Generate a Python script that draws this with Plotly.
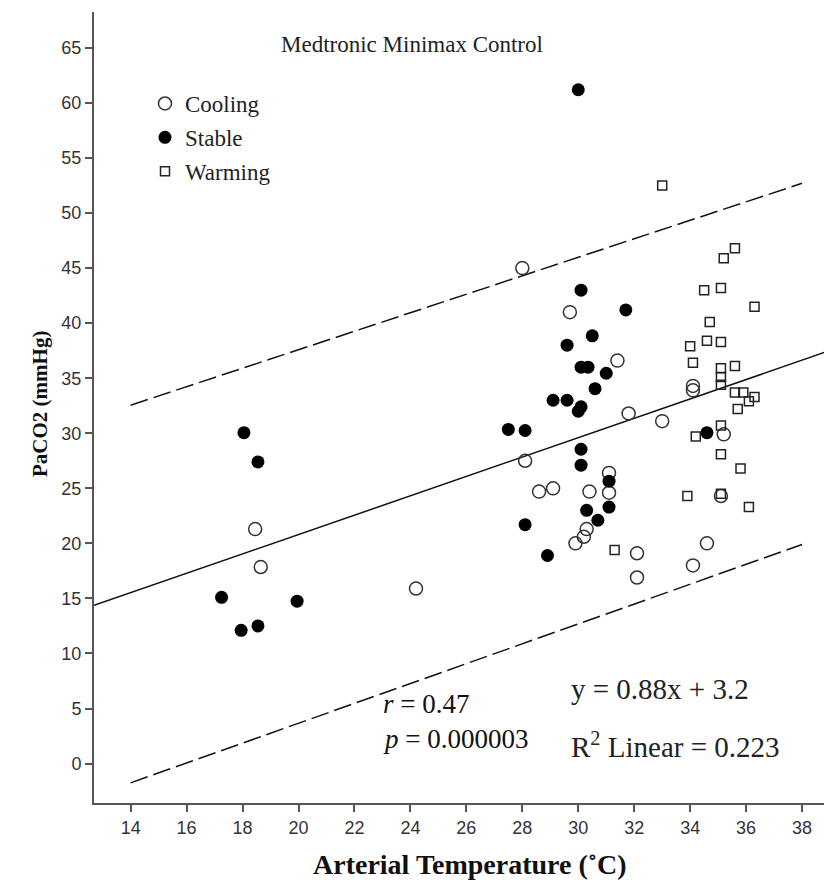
import plotly.graph_objects as go

# ---- data ----
cooling_x = [28.0, 29.7, 31.4, 31.8, 33.0, 28.1, 31.1, 28.6, 29.1, 30.4, 31.1, 30.3, 30.2, 29.9,
             32.1, 32.1, 34.6, 34.1, 34.1, 34.1, 35.2, 35.1, 18.45, 18.65, 24.2]
cooling_y = [45.0, 41.0, 36.6, 31.8, 31.1, 27.5, 26.4, 24.7, 25.0, 24.7, 24.6, 21.3, 20.6, 20.0,
             19.1, 16.9, 20.0, 18.0, 34.3, 33.9, 29.9, 24.3, 21.3, 17.85, 15.9]

stable_x = [30.0, 30.1, 31.7, 30.5, 29.6, 30.1, 30.35, 31.0, 30.6, 29.1, 29.6, 30.0, 30.1, 27.5,
            28.1, 30.1, 30.1, 31.1, 31.1, 30.3, 30.7, 28.1, 28.9, 34.6, 18.05, 18.55, 17.25,
            19.95, 18.55, 17.95]
stable_y = [61.2, 43.0, 41.2, 38.85, 38.0, 36.0, 36.0, 35.45, 34.05, 33.0, 33.0, 32.0, 32.4, 30.35,
            30.25, 28.55, 27.1, 25.65, 23.3, 23.0, 22.1, 21.7, 18.9, 30.05, 30.05, 27.4, 15.1,
            14.75, 12.5, 12.1]

warming_x = [33.0, 35.6, 35.2, 34.5, 35.1, 36.3, 34.7, 34.6, 35.1, 34.0, 34.1, 35.6, 35.1, 35.1,
             35.1, 35.6, 35.9, 36.3, 36.1, 35.7, 35.1, 34.2, 35.1, 35.8, 33.9, 35.1, 36.1, 31.3]
warming_y = [52.5, 46.8, 45.9, 43.0, 43.2, 41.5, 40.1, 38.4, 38.3, 37.9, 36.4, 36.1, 35.9, 35.1,
             34.4, 33.7, 33.7, 33.3, 32.9, 32.2, 30.7, 29.7, 28.1, 26.8, 24.3, 24.5, 23.3, 19.4]

fit_slope = 0.88
fit_intercept = 3.2
fit_x = [12.69, 39.07]

pi_x = [14, 38]
pi_upper = [32.55, 52.7]
pi_lower = [-1.75, 19.9]

x_ticks = [14, 16, 18, 20, 22, 24, 26, 28, 30, 32, 34, 36, 38]
y_ticks = [0, 5, 10, 15, 20, 25, 30, 35, 40, 45, 50, 55, 60, 65]

SERIF = "Liberation Serif, Times New Roman, serif"
SANS = "Liberation Sans, Arial, sans-serif"

fig = go.Figure()

fig.add_trace(go.Scatter(x=fit_x, y=[fit_slope * v + fit_intercept for v in fit_x], mode="lines",
                         line=dict(color="#111", width=1.5), showlegend=False, hoverinfo="skip"))
fig.add_trace(go.Scatter(x=pi_x, y=pi_upper, mode="lines",
                         line=dict(color="#111", width=1.5, dash="18px,6px"), showlegend=False))
fig.add_trace(go.Scatter(x=pi_x, y=pi_lower, mode="lines",
                         line=dict(color="#111", width=1.5, dash="18px,6px"), showlegend=False))

fig.add_trace(go.Scatter(x=cooling_x, y=cooling_y, mode="markers", name="Cooling", legendgroup="a",
                         marker=dict(symbol="circle-open", size=13, color="#333", line=dict(width=1.5))))
fig.add_trace(go.Scatter(x=stable_x, y=stable_y, mode="markers", name="Stable", legendgroup="b",
                         marker=dict(symbol="circle", size=13, color="#000")))
fig.add_trace(go.Scatter(x=warming_x, y=warming_y, mode="markers", name="Warming", legendgroup="c",
                         marker=dict(symbol="square-open", size=9, color="#222", line=dict(width=1.5))))

# page body has an 8px margin: positions below are given in screen pixels and shifted
OFF = 8
W, H = 832 - OFF, 885 - OFF
ml, mr, mt, mb = 94 - OFF, 0, 12 - OFF, H - (803 - OFF)
pw = W - ml - mr
ph = H - mt - mb


def px(xp):
    return (xp - OFF - ml) / pw


def py(yp):
    return 1 - (yp - OFF - mt) / ph


fig.update_layout(
    width=W, height=H,
    margin=dict(l=ml, r=mr, t=mt, b=mb),
    paper_bgcolor="white", plot_bgcolor="white",
    legend=dict(x=px(145), y=py(82),
                xanchor="left", yanchor="top", bgcolor="rgba(0,0,0,0)",
                font=dict(family=SERIF, size=23, color="#222"), tracegroupgap=1,
                itemsizing="trace"),
    xaxis=dict(range=[12.69, 39.07], tickvals=x_ticks, ticktext=[str(v) for v in x_ticks],
               showgrid=False, zeroline=False, showline=True, linecolor="#555", linewidth=2,
               ticks="outside", ticklen=7, tickwidth=2, tickcolor="#555",
               tickfont=dict(family=SANS, size=18, color="#333")),
    yaxis=dict(range=[-3.58, 68.26], tickvals=y_ticks, ticktext=[str(v) for v in y_ticks],
               showgrid=False, zeroline=False, showline=True, linecolor="#555", linewidth=2,
               ticks="outside", ticklen=7, tickwidth=2, tickcolor="#555",
               tickfont=dict(family=SANS, size=18, color="#333")),
)

annotations = [
    dict(text="Medtronic Minimax Control", x=px(412), y=py(45), font=dict(family=SERIF, size=23, color="#222")),
    dict(text="<i>r</i> = 0.47", x=px(381), y=py(704), xanchor="left", font=dict(family=SERIF, size=27, color="#111")),
    dict(text="<i>p</i> = 0.000003", x=px(381), y=py(739), xanchor="left", font=dict(family=SERIF, size=27, color="#111")),
    dict(text="y = 0.88x + 3.2", x=px(569), y=py(689), xanchor="left", font=dict(family=SERIF, size=29, color="#222")),
    dict(text="R<sup>2</sup> Linear = 0.223", x=px(569), y=py(745), xanchor="left", font=dict(family=SERIF, size=29, color="#222")),
    dict(text="<b>Arterial Temperature (˚C)</b>", x=px(470), y=py(864), font=dict(family=SERIF, size=28, color="#111")),
    dict(text="<b>PaCO2 (mmHg)</b>", x=px(40), y=py(404), textangle=-90, font=dict(family=SERIF, size=21, color="#111")),
]
for a in annotations:
    a.update(xref="paper", yref="paper", showarrow=False)
    a.setdefault("xanchor", "center")
    a.setdefault("yanchor", "middle")
fig.update_layout(annotations=annotations)

fig.write_html("out.html")
